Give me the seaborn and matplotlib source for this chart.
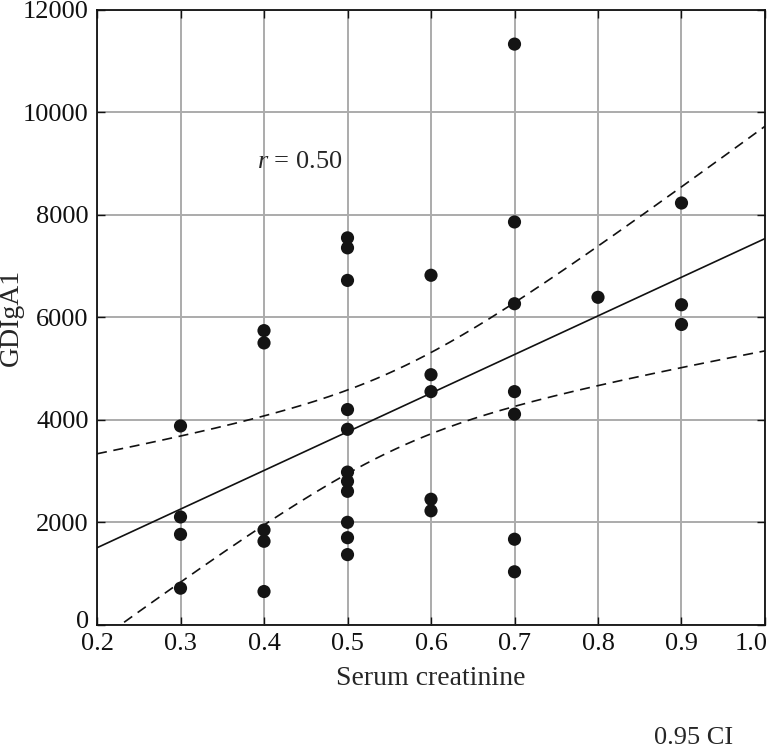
import numpy as np
import pandas as pd
import matplotlib
matplotlib.use("Agg")
import matplotlib.pyplot as plt
import matplotlib.transforms as mtrans
import seaborn as sns

# Data
creatinine = [0.3, 0.3, 0.3, 0.3,
              0.4, 0.4, 0.4, 0.4, 0.4,
              0.5, 0.5, 0.5, 0.5, 0.5, 0.5, 0.5, 0.5, 0.5, 0.5, 0.5,
              0.6, 0.6, 0.6, 0.6, 0.6,
              0.7, 0.7, 0.7, 0.7, 0.7, 0.7, 0.7,
              0.8,
              0.9, 0.9, 0.9]
gdiga1 = [3880, 2105, 1765, 715,
          5740, 5500, 1850, 1630, 650,
          7550, 7355, 6720, 4200, 3815, 2980, 2800, 2605, 2000, 1700, 1370,
          6820, 4880, 4550, 2450, 2225,
          11330, 7860, 6265, 4550, 4110, 1670, 1035,
          6390,
          8230, 6245, 5860]
x_ticks = [0.2, 0.3, 0.4, 0.5, 0.6, 0.7, 0.8, 0.9, 1.0]
x_ticklabels = ["0.2", "0.3", "0.4", "0.5", "0.6", "0.7", "0.8", "0.9", "1.0"]
y_ticks = [0, 2000, 4000, 6000, 8000, 10000, 12000]
y_ticklabels = ["0", "2000", "4000", "6000", "8000", "10000", "12000"]

df = pd.DataFrame({"Serum creatinine": creatinine, "GDIgA1": gdiga1})

sns.set_theme(style="white")
plt.rcParams["font.family"] = ["Liberation Serif", "DejaVu Serif"]
plt.rcParams["mathtext.fontset"] = "custom"
plt.rcParams["mathtext.it"] = "Liberation Serif:italic"
plt.rcParams["mathtext.rm"] = "Liberation Serif"

FS = 19
fig = plt.figure(figsize=(7.7, 7.51), dpi=100)
ax = fig.add_axes([0.126, 0.168, 0.8675, 0.819])
ax.set_xlim(0.2, 1.0)
ax.set_ylim(0, 12000)
ax.set_xticks(x_ticks)
ax.set_xticklabels(x_ticklabels)
ax.set_yticks(y_ticks)
ax.set_yticklabels(y_ticklabels)
ax.grid(True, color="#ababab", linewidth=1.4)
ax.set_axisbelow(True)

sns.regplot(data=df, x="Serum creatinine", y="GDIgA1", ax=ax, ci=None,
            truncate=False,
            scatter_kws=dict(s=90, color="#141414", edgecolor="none", alpha=1, zorder=3),
            line_kws=dict(color="#111111", linewidth=1.2, zorder=2))

# 95% confidence band of the mean (dashed)
x = np.asarray(creatinine, float)
y = np.asarray(gdiga1, float)
n = len(x)
b, a = np.polyfit(x, y, 1)
resid = y - (a + b * x)
s = np.sqrt(np.sum(resid ** 2) / (n - 2))
xm = x.mean()
sxx = np.sum((x - xm) ** 2)
t = 2.032
xs = np.linspace(0.2, 1.0, 200)
yh = a + b * xs
se = s * np.sqrt(1.0 / n + (xs - xm) ** 2 / sxx)
ax.plot(xs, yh + t * se, color="#111111", linestyle=(0, (6, 4)), linewidth=1.2, zorder=2)
ax.plot(xs, yh - t * se, color="#111111", linestyle=(0, (6, 4)), linewidth=1.2, zorder=2)

ax.set_xlabel("Serum creatinine", fontsize=FS + 1, labelpad=8)
ax.set_ylabel("GDIgA1", fontsize=FS + 1)
ax.yaxis.set_label_coords(-0.11, 0.5)
ax.tick_params(axis="both", labelsize=FS, direction="in", length=6, width=1,
               colors="#111111", top=True, right=True, bottom=True, left=True)
ax.tick_params(axis="y", pad=6)
ax.tick_params(axis="x", pad=6)
for sp in ax.spines.values():
    sp.set_color("#111111")
    sp.set_linewidth(1.3)
    sp.set_visible(True)

# keep the last x tick label inside the figure, as in the reference
last = ax.get_xticklabels()[-1]
last.set_transform(last.get_transform() + mtrans.ScaledTranslation(-14 / 100, 0, fig.dpi_scale_trans))
# lift the "0" y tick label a little so it clears "0.2"
zero = ax.get_yticklabels()[0]
zero.set_transform(zero.get_transform() + mtrans.ScaledTranslation(0, 5 / 100, fig.dpi_scale_trans))

ax.text(0.443, 9030, "$r$ = 0.50", fontsize=FS, ha="center", va="center")
fig.text(0.952, 0.003, "0.95 CI", fontsize=FS, ha="right", va="bottom")

fig.savefig("out.png", dpi=100)
